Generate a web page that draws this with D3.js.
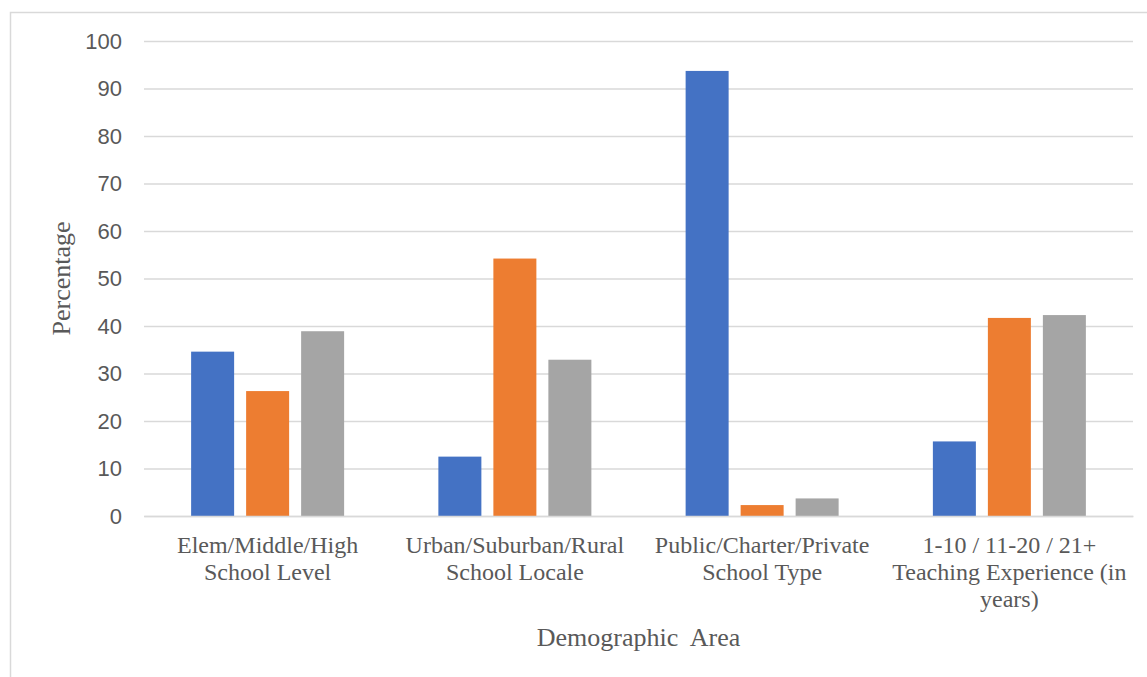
<!DOCTYPE html>
<html>
<head>
<meta charset="utf-8">
<script src="https://cdn.jsdelivr.net/npm/d3@7"></script>
<style>
  html, body { margin: 0; padding: 0; background: #fff; }
  svg { display: block; }
</style>
</head>
<body>
<svg id="chart" width="1147" height="677"></svg>
<script>
// Demographic areas (x categories), each label split into its display lines
const categories = [
  "Elem/Middle/High School Level",
  "Urban/Suburban/Rural School Locale",
  "Public/Charter/Private School Type",
  "1-10 / 11-20 / 21+ Teaching Experience (in years)"
];
const categoryLines = [
  ["Elem/Middle/High", "School Level"],
  ["Urban/Suburban/Rural", "School Locale"],
  ["Public/Charter/Private", "School Type"],
  ["1-10 / 11-20 / 21+", "Teaching Experience (in", "years)"]
];

// Three sub-groups per area (first / second / third option listed in each label)
const series = ["first", "second", "third"];
const firstValues  = [34.6, 12.5, 93.7, 15.7];
const secondValues = [26.3, 54.2, 2.3, 41.7];
const thirdValues  = [38.9, 32.9, 3.7, 42.3];
const yTicks = [0, 10, 20, 30, 40, 50, 60, 70, 80, 90, 100];

const colors = ["#4472c4", "#ed7d31", "#a5a5a5"];
const valuesBySeries = [firstValues, secondValues, thirdValues];

const svg = d3.select("#chart");
const plot = { left: 144, right: 1133, top: 41, bottom: 516 };

// Chart frame
svg.append("rect")
  .attr("x", 10.5).attr("y", 12.5)
  .attr("width", 1150).attr("height", 700)
  .attr("fill", "none")
  .attr("stroke", "#d9d9d9")
  .attr("stroke-width", 1.5);

const x0 = d3.scaleBand()
  .domain(categories)
  .range([plot.left, plot.right])
  .padding(0);

const groupW = 165;
const x1 = d3.scaleBand()
  .domain(series)
  .range([(x0.bandwidth() - groupW) / 2, (x0.bandwidth() + groupW) / 2])
  .paddingInner(12 / 55)
  .paddingOuter(6 / 55);

const y = d3.scaleLinear().domain([0, 100]).range([plot.bottom, plot.top]);

// Gridlines and value labels
const yAxis = d3.axisLeft(y)
  .tickValues(yTicks)
  .tickSize(-(plot.right - plot.left))
  .tickPadding(22)
  .tickFormat(d3.format("d"));

const gy = svg.append("g")
  .attr("transform", `translate(${plot.left},0)`)
  .call(yAxis);
gy.select(".domain").remove();
gy.selectAll(".tick line")
  .attr("stroke", "#d9d9d9")
  .attr("stroke-width", 1.5);
gy.selectAll(".tick text")
  .attr("fill", "#595959")
  .style("font-family", "'Liberation Sans', Arial, sans-serif")
  .style("font-size", "22px");

// Bars
const rows = categories.map((c, i) => ({
  category: c,
  values: series.map((s, j) => ({ key: s, value: valuesBySeries[j][i], color: colors[j] }))
}));

const groups = svg.append("g").selectAll("g")
  .data(rows)
  .join("g")
  .attr("transform", d => `translate(${x0(d.category)},0)`);

groups.selectAll("rect")
  .data(d => d.values)
  .join("rect")
  .attr("x", d => x1(d.key))
  .attr("y", d => y(d.value))
  .attr("width", x1.bandwidth())
  .attr("height", d => y(0) - y(d.value))
  .attr("fill", d => d.color);

// Category labels
const xAxis = d3.axisBottom(x0).tickSize(0).tickFormat(() => "");
const gx = svg.append("g")
  .attr("transform", `translate(0,${plot.bottom})`)
  .call(xAxis);
gx.select(".domain")
  .attr("stroke", "#d9d9d9")
  .attr("stroke-width", 1.5);

gx.selectAll(".tick").each(function(d, i) {
  const t = d3.select(this).append("text")
    .attr("fill", "#595959")
    .attr("text-anchor", "middle")
    .style("font-family", "'Liberation Serif', 'Times New Roman', serif")
    .style("font-size", "24px");
  categoryLines[i].forEach((line, k) => {
    t.append("tspan")
      .attr("x", 0)
      .attr("y", 37 + k * 27)
      .text(line);
  });
});

// Axis titles
svg.append("text")
  .attr("transform", `translate(70,${(plot.top + plot.bottom) / 2}) rotate(-90)`)
  .attr("text-anchor", "middle")
  .attr("fill", "#595959")
  .style("font-family", "'Liberation Serif', 'Times New Roman', serif")
  .style("font-size", "26px")
  .text("Percentage");

svg.append("text")
  .attr("x", (plot.left + plot.right) / 2)
  .attr("y", 646)
  .attr("text-anchor", "middle")
  .attr("fill", "#595959")
  .style("font-family", "'Liberation Serif', 'Times New Roman', serif")
  .style("font-size", "26px")
  .style("white-space", "pre")
  .text("Demographic  Area");
</script>
</body>
</html>
